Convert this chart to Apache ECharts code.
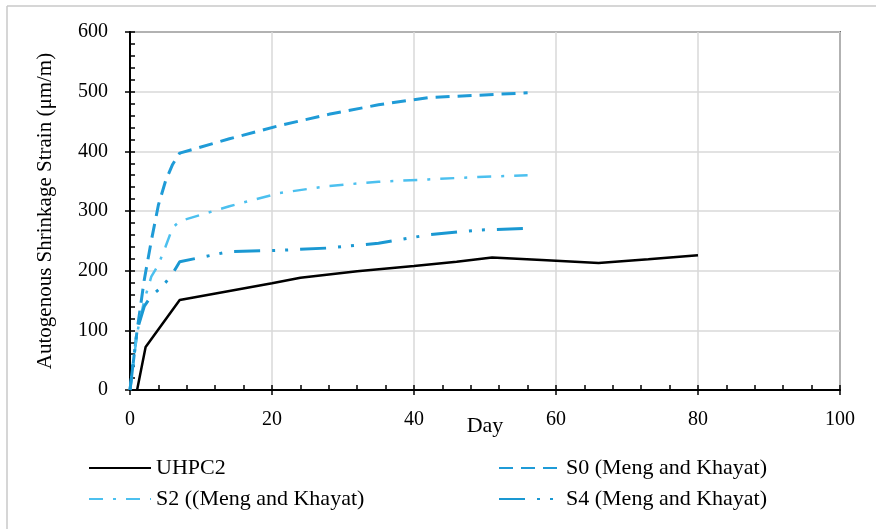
<!DOCTYPE html>
<html>
<head>
<meta charset="utf-8">
<script src="https://cdn.jsdelivr.net/npm/echarts@6/dist/echarts.min.js"></script>
<style>
  html, body { margin: 0; padding: 0; background: #fff; }
  #chart { width: 876px; height: 529px; }
</style>
</head>
<body>
<div id="chart"></div>
<script>
// 数据
var uhpcDays = [1, 2.2, 7, 14, 20, 24, 32, 40, 46, 51, 58, 66, 73, 80];
var uhpcStrain = [0, 72, 151, 166, 179, 188, 199, 208, 215, 222, 218, 213, 219, 226];

var s0Days = [0, 1, 2, 3, 4, 5, 6, 7, 14, 21, 28, 35, 42, 49, 56];
var s0Strain = [0, 100, 184, 250, 310, 350, 378, 397, 421, 443, 462, 478, 490, 494, 498];

var s2Days = [0, 1, 2, 3, 4, 5, 6, 7, 14, 21, 28, 35, 42, 49, 56];
var s2Strain = [0, 95, 150, 190, 210, 240, 272, 283, 308, 330, 342, 349, 353, 357, 360];

var s4Days = [0, 1, 2, 3, 4, 5, 6, 7, 14, 21, 28, 35, 42, 49, 56];
var s4Strain = [0, 100, 140, 158, 168, 180, 195, 215, 232, 234, 238, 246, 260, 268, 271];

var names = ['UHPC2', 'S0 (Meng and Khayat)', 'S2 ((Meng and Khayat)', 'S4 (Meng and Khayat)'];

function pairs(xs, ys) {
  return xs.map(function (x, i) { return [x, ys[i]]; });
}

var font = 'Liberation Serif';

// 图例位置
function legendAt(name, left, top) {
  return {
    data: [name],
    left: left,
    top: top,
    itemWidth: 62,
    itemHeight: 10,
    itemGap: 4,
    itemStyle: { opacity: 0 },
    textStyle: { fontFamily: font, fontSize: 22, color: '#000' }
  };
}

var chart = echarts.init(document.getElementById('chart'));
chart.setOption({
  animation: false,
  grid: {
    left: 130, right: 36, top: 32, bottom: 139,
    show: true, borderColor: '#000', borderWidth: 1.5
  },
  graphic: [
    { type: 'line', shape: { x1: 7, y1: 6, x2: 876, y2: 6 }, style: { stroke: '#c8c8c8', lineWidth: 1.5 } },
    { type: 'line', shape: { x1: 7, y1: 6, x2: 7, y2: 529 }, style: { stroke: '#c8c8c8', lineWidth: 1.5 } }
  ],
  legend: [
    legendAt(names[0], 83, 452),
    legendAt(names[1], 493, 452),
    legendAt(names[2], 83, 483),
    legendAt(names[3], 493, 483)
  ],
  xAxis: [{
    type: 'value', min: 0, max: 100, interval: 20,
    name: 'Day', nameLocation: 'middle', nameGap: 25, nameMoveOverlap: false,
    nameTextStyle: { fontFamily: font, fontSize: 22, color: '#000' },
    axisLine: { lineStyle: { color: '#000', width: 2 } },
    axisTick: { inside: true, length: 5, lineStyle: { color: '#000', width: 1.5 } },
    minorTick: { show: true, splitNumber: 5, length: 5, lineStyle: { color: '#000', width: 1.5 } },
    axisLabel: { margin: 20, fontFamily: font, fontSize: 20, color: '#000' },
    splitLine: { lineStyle: { color: '#d9d9d9', width: 1.5 } }
  }, {
    type: 'value', min: 0, max: 100, interval: 20, position: 'bottom',
    axisLine: { show: false },
    axisTick: { inside: false, length: 5, lineStyle: { color: '#000', width: 1.5 } },
    axisLabel: { show: false },
    splitLine: { show: false }
  }],
  yAxis: [{
    type: 'value', min: 0, max: 600, interval: 100,
    name: 'Autogenous Shrinkage Strain (μm/m)', nameLocation: 'middle', nameGap: 74,
    nameMoveOverlap: false,
    nameTextStyle: { fontFamily: font, fontSize: 21, color: '#000' },
    axisLine: { lineStyle: { color: '#000', width: 2 } },
    axisTick: { inside: true, length: 5, lineStyle: { color: '#000', width: 1.5 } },
    minorTick: { show: true, splitNumber: 5, length: 5, lineStyle: { color: '#000', width: 1.5 } },
    axisLabel: { margin: 22, fontFamily: font, fontSize: 20, color: '#000' },
    splitLine: { lineStyle: { color: '#d9d9d9', width: 1.5 } }
  }, {
    type: 'value', min: 0, max: 600, interval: 100, position: 'left',
    axisLine: { show: false },
    axisTick: { inside: false, length: 5, lineStyle: { color: '#000', width: 1.5 } },
    axisLabel: { show: false },
    splitLine: { show: false }
  }],
  series: [{
    name: names[0], type: 'line', symbol: 'none',
    data: pairs(uhpcDays, uhpcStrain),
    lineStyle: { color: '#000', width: 2.5 },
    itemStyle: { color: '#000' }
  }, {
    name: names[1], type: 'line', symbol: 'none',
    data: pairs(s0Days, s0Strain),
    lineStyle: { color: '#1f9bd7', width: 3, type: [14, 8] },
    itemStyle: { color: '#1f9bd7' }
  }, {
    name: names[2], type: 'line', symbol: 'none',
    data: pairs(s2Days, s2Strain),
    lineStyle: { color: '#4cc0ef', width: 2.5, type: [14, 10, 3, 10] },
    itemStyle: { color: '#4cc0ef' }
  }, {
    name: names[3], type: 'line', symbol: 'none',
    data: pairs(s4Days, s4Strain),
    lineStyle: { color: '#1a98d2', width: 3, type: [26, 12, 3, 10, 3, 12] },
    itemStyle: { color: '#1a98d2' }
  }]
});
</script>
</body>
</html>
